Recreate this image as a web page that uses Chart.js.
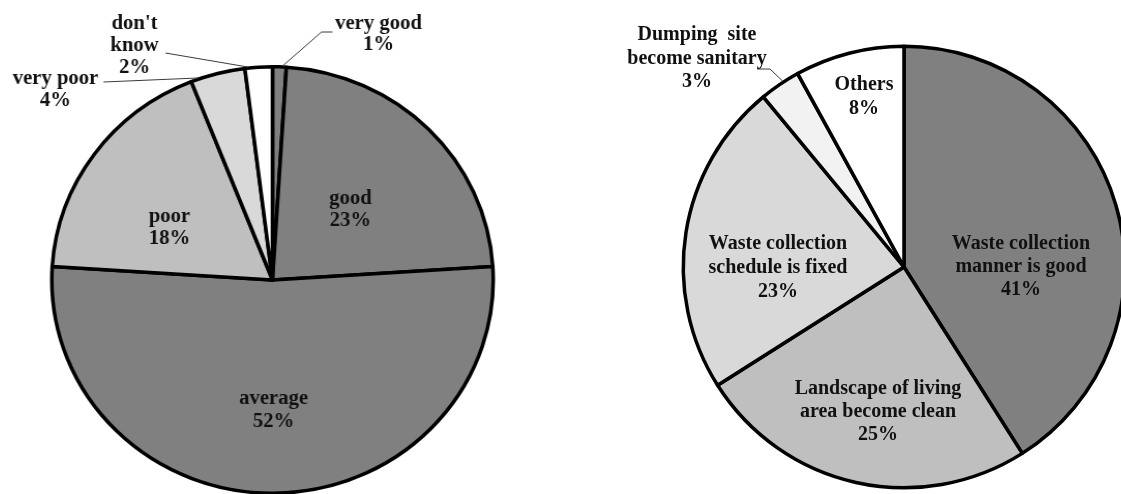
<!DOCTYPE html>
<html><head><meta charset="utf-8">
<script src="https://cdn.jsdelivr.net/npm/chart.js@4.4.1/dist/chart.umd.min.js"></script>
<style>
html,body{margin:0;padding:0;background:#fff;}
#wrap{position:relative;width:1121px;height:494px;overflow:hidden;background:#fff;}
canvas{position:absolute;left:0;top:0;}
#c1{transform-origin:272.5px 0;transform:scaleX(1.035);}
</style></head><body>
<div id="wrap"><canvas id="c1" width="1121" height="494" style="width:1121px;height:494px"></canvas><canvas id="c2" width="1121" height="494" style="width:1121px;height:494px"></canvas></div>
<script>
// ---- data ----
const leftCategories = ['very good', 'good', 'average', 'poor', 'very poor', "don't know"];
const leftValues = [1, 23, 52, 18, 4, 2];
const leftLabelLines = [['very good'], ['good'], ['average'], ['poor'], ['very poor'], ["don't", 'know']];

const rightCategories = ['Waste collection manner is good', 'Landscape of living area become clean', 'Waste collection schedule is fixed', 'Dumping site become sanitary', 'Others'];
const rightValues = [41, 25, 23, 3, 8];
const rightLabelLines = [['Waste collection', 'manner is good'], ['Landscape of living', 'area become clean'], ['Waste collection', 'schedule is fixed'], ['Dumping  site', 'become sanitary'], ['Others']];

// ---- styling / layout ----
const leftColors = ['#808080', '#808080', '#808080', '#bfbfbf', '#d9d9d9', '#ffffff'];
const rightColors = ['#808080', '#bfbfbf', '#d9d9d9', '#f2f2f2', '#ffffff'];

// label anchors relative to pie centre (screen px, first line centre), line height, leaders
const leftLayout = [
  {dx: 106, dy: -256, lh: 21, leader: {frac: 0.72, pts: [[49, -248], [60, -248]]}},
  {dx: 78, dy: -81, lh: 22},
  {dx: 1, dy: 119, lh: 23},
  {dx: -103, dy: -63, lh: 22},
  {dx: -217, dy: -201, lh: 22, leader: {frac: 0.15, pts: [[-169, -198]]}},
  {dx: -138, dy: -256, lh: 22, leader: {frac: 0.12, pts: [[-107, -227]]}}
];
const rightLayout = [
  {dx: 117, dy: -23, lh: 23},
  {dx: -26, dy: 122, lh: 23},
  {dx: -126, dy: -23, lh: 24},
  {dx: -207, dy: -232, lh: 23.5, leader: {frac: 0.6, pts: [[-134, -198], [-147, -198]]}},
  {dx: -40, dy: -182, lh: 24}
];

const FONT = 'bold 20px "Liberation Serif", "Times New Roman", serif';

const labelPlugin = {
  id: 'pieLabels',
  afterDatasetsDraw(chart, args, opts) {
    const ctx = chart.ctx;
    const meta = chart.getDatasetMeta(0);
    const values = chart.data.datasets[0].data;
    const sx = opts.sx || 1;
    ctx.save();
    meta.data.forEach((el, i) => {
      const L = opts.layout[i];
      const cx = el.x, cy = el.y;
      if (L.leader) {
        const a = el.startAngle + L.leader.frac * (el.endAngle - el.startAngle);
        const r = el.outerRadius + 1;
        ctx.beginPath();
        ctx.strokeStyle = '#3a3a3a';
        ctx.lineWidth = 1;
        ctx.moveTo(cx + r * Math.cos(a), cy + r * Math.sin(a));
        L.leader.pts.forEach(p => ctx.lineTo(cx + p[0] / sx, cy + p[1]));
        ctx.stroke();
      }
      const lines = opts.lines[i].concat([values[i] + '%']);
      ctx.font = FONT;
      ctx.fillStyle = '#111';
      ctx.textAlign = 'center';
      ctx.textBaseline = 'middle';
      lines.forEach((t, k) => ctx.fillText(t, cx + L.dx / sx, cy + L.dy + k * L.lh));
    });
    ctx.restore();
  }
};

function makePie(id, labels, values, colors, radius, padding, layout, lines, sx) {
  return new Chart(document.getElementById(id), {
    type: 'pie',
    data: {
      labels: labels,
      datasets: [{
        data: values,
        backgroundColor: colors,
        borderColor: '#000',
        borderWidth: 3.5,
        borderJoinStyle: 'round',
        clip: false
      }]
    },
    options: {
      responsive: false,
      devicePixelRatio: 1,
      animation: false,
      radius: radius,
      layout: {padding: padding},
      plugins: {
        legend: {display: false},
        tooltip: {enabled: false},
        pieLabels: {layout: layout, lines: lines, sx: sx}
      }
    },
    plugins: [labelPlugin]
  });
}

// left pie centre (272.5,280), slightly wider than tall as in the reference; right pie centre (904,267)
makePie('c1', leftCategories, leftValues, leftColors, 213.25, {left: 0, right: 576, top: 66, bottom: 0}, leftLayout, leftLabelLines, 1.035);
makePie('c2', rightCategories, rightValues, rightColors, 220.75, {left: 687, right: 0, top: 40, bottom: 0}, rightLayout, rightLabelLines, 1);
</script>
</body></html>
